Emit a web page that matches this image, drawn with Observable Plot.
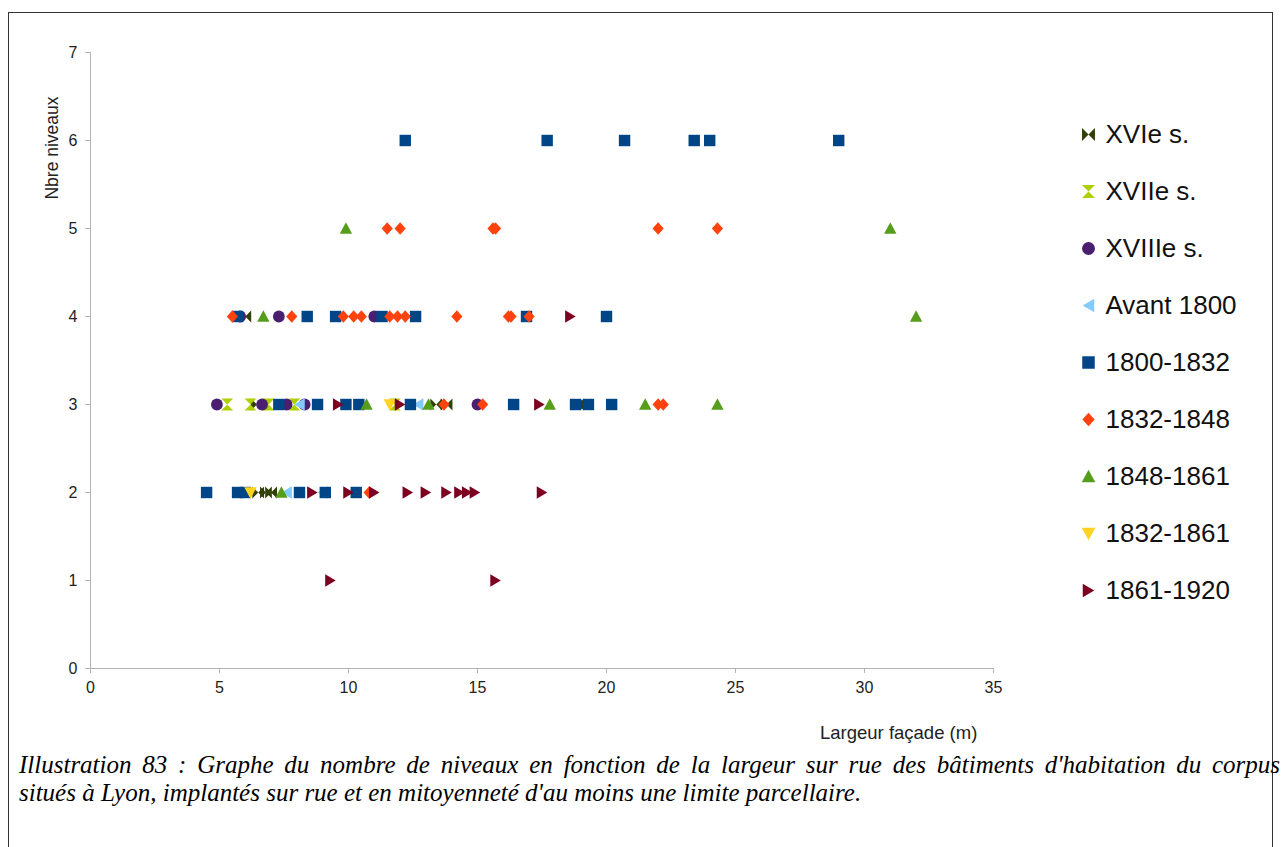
<!DOCTYPE html>
<html>
<head>
<meta charset="utf-8">
<script src="https://cdn.jsdelivr.net/npm/d3@7"></script>
<script src="https://cdn.jsdelivr.net/npm/@observablehq/plot@0.6"></script>
<style>
  html, body { margin: 0; padding: 0; background: #fff; overflow: hidden; }
  #page { position: relative; width: 1282px; height: 847px; overflow: hidden; font-family: "Liberation Sans", Arial, sans-serif; }
  #frame { position: absolute; left: 8px; top: 12px; width: 1265px; height: 900px; border: 1px solid #333; box-sizing: border-box; }
  #chart { position: absolute; left: 0; top: 0; }
  #legend { position: absolute; left: 1070px; top: 100px; }
  .atitle { position: absolute; color: #222; white-space: nowrap; }
  #ytitle { left: 52px; top: 148px; font-size: 17.5px; transform: translate(-50%, -50%) rotate(-90deg); }
  #xtitle { left: 820px; top: 722px; font-size: 18.5px; }
  .cap { position: absolute; left: 19px; font-family: "Liberation Serif", serif; font-style: italic; font-size: 25px; line-height: 28px; color: #000; white-space: nowrap; }
  #cap1 { top: 751px; width: 1261px; white-space: normal; text-align: justify; text-align-last: justify; }
  #cap2 { top: 779px; }
</style>
</head>
<body>
<div id="page">
  <div id="frame"></div>
  <div id="chart"></div>
  <div id="legend"></div>
  <div class="atitle" id="ytitle">Nbre niveaux</div>
  <div class="atitle" id="xtitle">Largeur façade (m)</div>
  <div class="cap" id="cap1">Illustration 83 : Graphe du nombre de niveaux en fonction de la largeur sur rue des bâtiments d'habitation du corpus</div>
  <div class="cap" id="cap2">situés à Lyon, implantés sur rue et en mitoyenneté d'au moins une limite parcellaire.</div>
</div>
<script>
// ---- Data: [largeur façade (m), nombre de niveaux] per period ----
const seriesNames = ["XVIe s.", "XVIIe s.", "XVIIIe s.", "Avant 1800", "1800-1832", "1832-1848", "1848-1861", "1832-1861", "1861-1920"];
const seriesColors = ["#314004", "#aecf00", "#4b1f6f", "#83caff", "#004586", "#ff420e", "#579d1c", "#ffd320", "#7e0021"];

const xvie = [[6.0, 4], [6.45, 3], [13.4, 3], [13.8, 3], [18.9, 3], [19.2, 3], [6.5, 2], [6.8, 2], [7.0, 2]];
const xviie = [[5.3, 3], [6.2, 3], [6.9, 3], [7.9, 3], [11.8, 3]];
const xviiie = [[5.8, 4], [7.3, 4], [11.0, 4], [4.9, 3], [6.65, 3], [7.6, 3], [8.3, 3], [15.0, 3]];
const avant1800 = [[8.1, 3], [12.7, 3], [7.6, 2], [9.0, 2]];
const p1800_1832 = [[12.2, 6], [17.7, 6], [20.7, 6], [23.4, 6], [24.0, 6], [29.0, 6],
  [5.7, 4], [8.4, 4], [9.5, 4], [11.3, 4], [12.6, 4], [16.9, 4], [20.0, 4],
  [7.3, 3], [8.8, 3], [9.9, 3], [10.4, 3], [12.4, 3], [16.4, 3], [18.8, 3], [19.3, 3], [20.2, 3],
  [4.5, 2], [5.7, 2], [6.0, 2], [8.1, 2], [9.1, 2], [10.3, 2]];
const p1832_1848 = [[11.5, 5], [12.0, 5], [15.6, 5], [15.7, 5], [22.0, 5], [24.3, 5],
  [5.5, 4], [7.8, 4], [9.8, 4], [10.2, 4], [10.5, 4], [11.6, 4], [11.9, 4], [12.2, 4], [14.2, 4], [16.2, 4], [16.3, 4], [17.0, 4],
  [13.7, 3], [15.2, 3], [22.0, 3], [22.2, 3],
  [10.8, 2]];
const p1848_1861 = [[9.9, 5], [31.0, 5], [6.7, 4], [32.0, 4], [10.7, 3], [13.1, 3], [17.8, 3], [21.5, 3], [24.3, 3], [7.4, 2]];
const p1832_1861 = [[11.6, 3], [6.2, 2]];
const p1861_1920 = [[18.6, 4], [9.6, 3], [12.0, 3], [17.4, 3],
  [8.6, 2], [10.0, 2], [11.0, 2], [12.3, 2], [13.0, 2], [13.8, 2], [14.3, 2], [14.6, 2], [14.9, 2], [17.5, 2],
  [9.3, 1], [15.7, 1]];
const seriesData = [xvie, xviie, xviiie, avant1800, p1800_1832, p1832_1848, p1848_1861, p1832_1861, p1861_1920];

const xTicks = [0, 5, 10, 15, 20, 25, 30, 35];
const yTicks = [0, 1, 2, 3, 4, 5, 6, 7];

// ---- Custom marker shapes (LibreOffice style) ----
const R = s => Math.sqrt(s / Math.PI);
const bowtie = {draw(c, s) { const h = R(s) * 0.95; c.moveTo(-h, -h); c.lineTo(0, 0); c.lineTo(h, -h); c.lineTo(h, h); c.lineTo(0, 0); c.lineTo(-h, h); c.closePath(); }};
const hourglass = {draw(c, s) { const h = R(s) * 0.95; c.moveTo(-h, -h); c.lineTo(h, -h); c.lineTo(0, 0); c.lineTo(h, h); c.lineTo(-h, h); c.lineTo(0, 0); c.closePath(); }};
const circle = {draw(c, s) { const h = R(s) * 0.95; c.moveTo(h, 0); c.arc(0, 0, h, 0, 2 * Math.PI); c.closePath(); }};
const triLeft = {draw(c, s) { const h = R(s); c.moveTo(h * 0.85, -h); c.lineTo(-h * 0.85, 0); c.lineTo(h * 0.85, h); c.closePath(); }};
const square = {draw(c, s) { const h = R(s) * 0.92; c.moveTo(-h, -h); c.lineTo(h, -h); c.lineTo(h, h); c.lineTo(-h, h); c.closePath(); }};
const diamond = {draw(c, s) { const h = R(s); c.moveTo(0, -h); c.lineTo(h * 0.9, 0); c.lineTo(0, h); c.lineTo(-h * 0.9, 0); c.closePath(); }};
const triUp = {draw(c, s) { const h = R(s); c.moveTo(0, -h); c.lineTo(h, h * 0.85); c.lineTo(-h, h * 0.85); c.closePath(); }};
const triDown = {draw(c, s) { const h = R(s); c.moveTo(-h, -h * 0.85); c.lineTo(h, -h * 0.85); c.lineTo(0, h); c.closePath(); }};
const triRight = {draw(c, s) { const h = R(s); c.moveTo(-h * 0.85, -h); c.lineTo(h * 0.85, 0); c.lineTo(-h * 0.85, h); c.closePath(); }};
const seriesSymbols = [bowtie, hourglass, circle, triLeft, square, diamond, triUp, triDown, triRight];

// ---- Main chart ----
const H = 720;
const chart = Plot.plot({
  width: 1282,
  height: H,
  marginLeft: 90,
  marginRight: 289,
  marginTop: 52,
  marginBottom: H - 668,
  style: {fontFamily: "Liberation Sans, Arial, sans-serif", fontSize: "16px", background: "transparent"},
  x: {domain: [0, 35]},
  y: {domain: [0, 7]},
  marks: [
    Plot.ruleX([0], {stroke: "#b3b3b3"}),
    Plot.ruleY([0], {stroke: "#b3b3b3"}),
    Plot.axisX(xTicks, {tickSize: 5, tickPadding: 8, tickFormat: d => String(d), stroke: "#b3b3b3", fill: "#222", fontSize: 16, label: null}),
    Plot.axisY(yTicks, {tickSize: 5, tickPadding: 8, tickFormat: d => String(d), stroke: "#b3b3b3", fill: "#222", fontSize: 16, label: null}),
    ...seriesData.map((pts, i) => Plot.dot(pts, {
      x: d => d[0], y: d => d[1], symbol: seriesSymbols[i], fill: seriesColors[i], stroke: "none", r: 6.2
    }))
  ]
});
document.getElementById("chart").appendChild(chart);

// ---- Legend ----
const legend = Plot.plot({
  width: 212,
  height: 520,
  margin: 0,
  style: {fontFamily: "Liberation Sans, Arial, sans-serif", background: "transparent"},
  x: {domain: [0, 1], range: [18, 212], axis: null},
  y: {type: "point", domain: seriesNames, range: [33, 491], padding: 0, axis: null},
  marks: [
    ...seriesNames.map((n, i) => Plot.dot([n], {x: () => 0, y: d => d, symbol: seriesSymbols[i], fill: seriesColors[i], stroke: "none", r: 6.8})),
    Plot.text(seriesNames, {x: () => 0, y: d => d, text: d => d, dx: 17, textAnchor: "start", fontSize: 26, fill: "#111"})
  ]
});
document.getElementById("legend").appendChild(legend);
</script>
</body>
</html>
